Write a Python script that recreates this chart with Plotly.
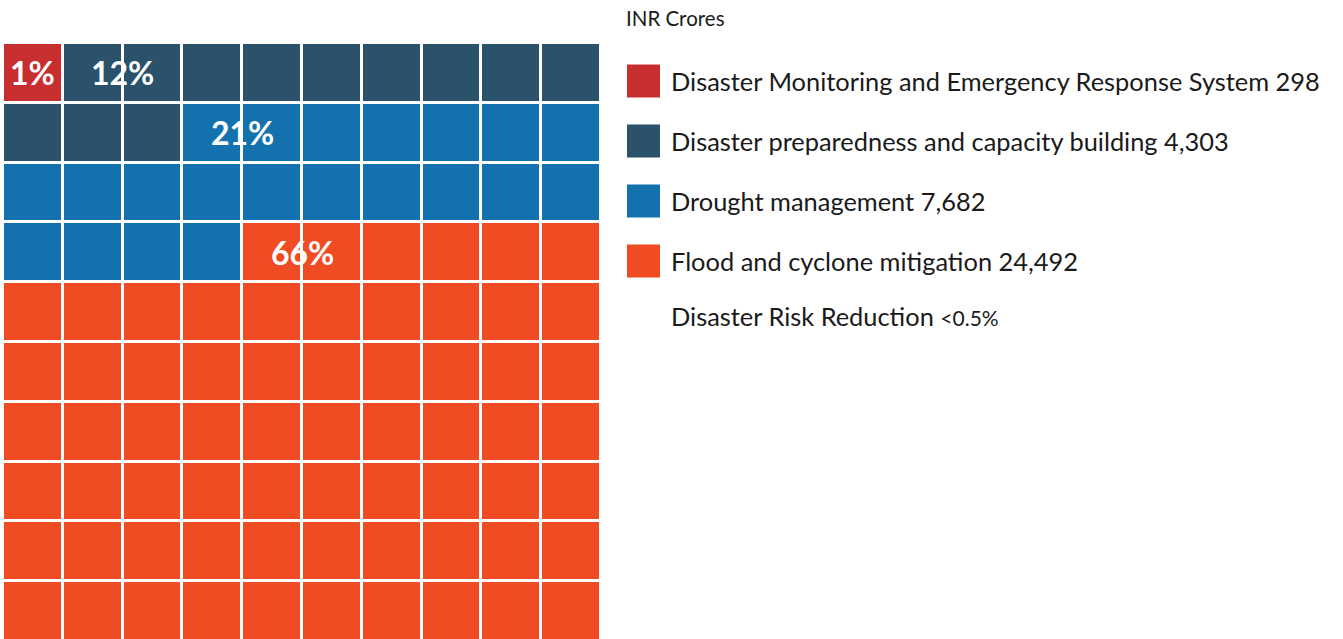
import plotly.graph_objects as go

# ---- data ----
categories = [
    "Disaster Monitoring and Emergency Response System",
    "Disaster preparedness and capacity building",
    "Drought management",
    "Flood and cyclone mitigation",
]
amounts = ["298", "4,303", "7,682", "24,492"]
percent_cells = [1, 12, 21, 66]
percent_labels = ["1%", "12%", "21%", "66%"]
extra_label = "Disaster Risk Reduction"
extra_value = "<0.5%"
unit_label = "INR Crores"
colors = ["#C62E30", "#2A536B", "#1371AD", "#F04C23"]

N_COLS = 10
N_ROWS = 10

# ---- layout geometry (pixels) ----
W, H = 1343, 639
L, T = 3, 43
PLOT_W = 598
PLOT_H = H - T
FULL_W = W - L
PITCH = PLOT_W / N_COLS

# build waffle matrix
flat = []
for i, n in enumerate(percent_cells):
    flat += [i] * n
z = [flat[r * N_COLS:(r + 1) * N_COLS] for r in range(N_ROWS)]

ncat = len(categories)
colorscale = []
for i, c in enumerate(colors):
    colorscale.append([i / (ncat - 1), c])

fig = go.Figure()
fig.add_trace(go.Heatmap(
    z=z, x=list(range(N_COLS)), y=list(range(N_ROWS)),
    colorscale=colorscale, zmin=0, zmax=ncat - 1,
    showscale=False, xgap=3, ygap=3, hoverinfo="skip",
))

# percentage labels
start = 0
for i, n in enumerate(percent_cells):
    r, c = divmod(start, N_COLS)
    xpos = c + (0.5 if n > 1 else 0)
    fig.add_annotation(x=xpos, y=r, xref="x", yref="y", text="<b>%s</b>" % percent_labels[i],
                       showarrow=False, font=dict(family="Lato", size=32, color="white"))
    start += n

rows_visible = PLOT_H / PITCH
fig.update_xaxes(range=[-0.5, N_COLS - 0.5], domain=[0, PLOT_W / FULL_W],
                 visible=False, fixedrange=True)
fig.update_yaxes(range=[rows_visible - 0.5, -0.5], visible=False, fixedrange=True)

# ---- legend on second axes ----
LEG_X0 = 620
LEG_ROW0 = 81
LEG_PITCH = 60
fig.add_trace(go.Scatter(
    x=[23.5] * ncat, y=list(range(ncat)), mode="markers",
    marker=dict(symbol="square", size=33, color=colors, line=dict(width=0)),
    xaxis="x2", yaxis="y2", hoverinfo="skip", showlegend=False,
))
for i, (cat, amt) in enumerate(zip(categories, amounts)):
    fig.add_annotation(x=49, y=i, xref="x2", yref="y2", xanchor="left", yanchor="middle",
                       text="%s %s" % (cat, amt), showarrow=False,
                       font=dict(family="Lato", size=25.4, color="#1a1a1a"))
fig.add_annotation(x=49, y=ncat - 0.08, xref="x2", yref="y2", xanchor="left", yanchor="middle",
                   text="%s <span style='font-size:21px'>%s</span>" % (extra_label, extra_value.replace("<", "&lt;")),
                   showarrow=False, font=dict(family="Lato", size=25.4, color="#1a1a1a"))
fig.add_annotation(x=(624 - L) / FULL_W, y=1 + (T - 18) / PLOT_H, xref="paper", yref="paper",
                   xanchor="left", yanchor="middle",
                   text=unit_label, showarrow=False,
                   font=dict(family="Lato", size=20.5, color="#1a1a1a"))

top_idx = (T - LEG_ROW0) / LEG_PITCH
bot_idx = (H - LEG_ROW0) / LEG_PITCH
fig.update_layout(
    xaxis2=dict(domain=[(LEG_X0 - L) / FULL_W, 1], range=[0, W - LEG_X0], visible=False, fixedrange=True),
    yaxis2=dict(anchor="x2", range=[bot_idx, top_idx], visible=False, fixedrange=True),
)

fig.update_layout(
    width=W, height=H,
    margin=dict(l=L, r=0, t=T, b=0, pad=0),
    paper_bgcolor="white", plot_bgcolor="white",
    showlegend=False,
)
fig.write_html("out.html", config={"displayModeBar": False},
               post_script="document.body.style.margin='0';document.body.style.padding='0';")
